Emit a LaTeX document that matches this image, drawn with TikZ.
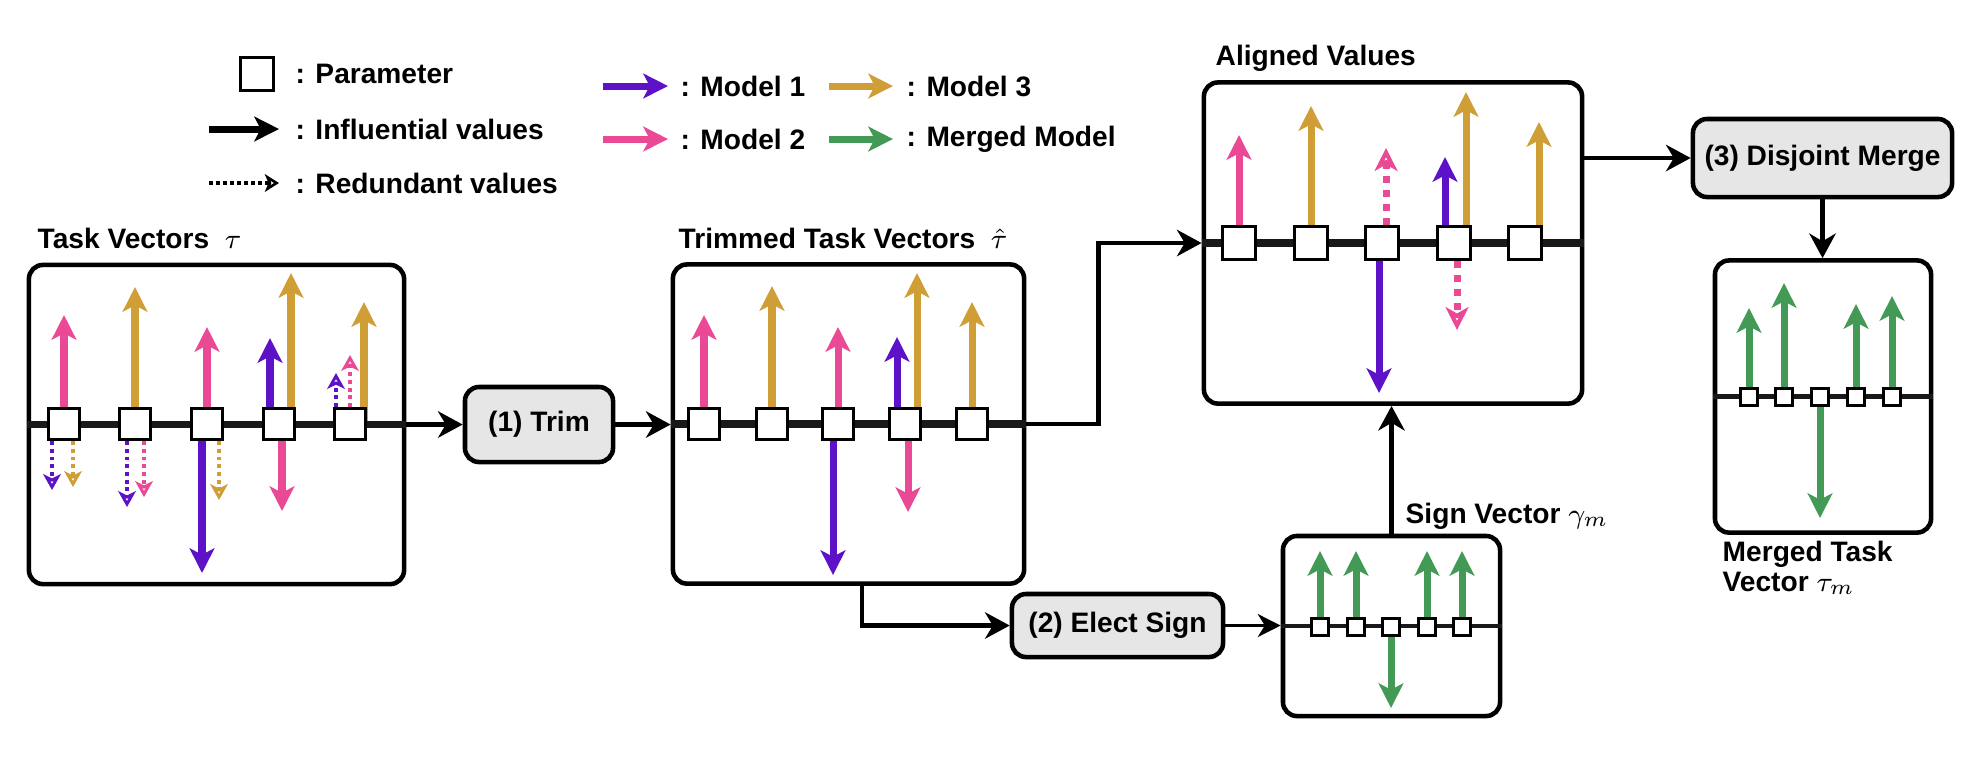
\documentclass[tikz,border=0pt]{standalone}
\usepackage{fontspec}
\setmainfont{Liberation Sans}
\usetikzlibrary{arrows.meta,calc}

\definecolor{mpurple}{HTML}{5E12C8}
\definecolor{mpink}{HTML}{EA4A95}
\definecolor{mgold}{HTML}{CF9E36}
\definecolor{mgreen}{HTML}{429A56}
\definecolor{procgray}{HTML}{E6E6E6}

\tikzset{
    lbl/.style={font=\fontsize{8}{8.6}\selectfont\bfseries, inner sep=0pt},
    panel/.style={draw, line width=1.3pt, rounded corners=4pt, inner sep=0pt},
    proc/.style={draw, fill=procgray, line width=1.3pt, rounded corners=4pt, inner sep=0pt, font=\fontsize{8}{9}\selectfont\bfseries},
    param/.style={draw, fill=white, line width=1.1pt, minimum size=0.31cm, inner sep=0pt},
    smallparam/.style={draw, fill=white, line width=0.9pt, minimum size=0.17cm, inner sep=0pt},
    axisline/.style={line width=2.1pt, black!90},
    smallaxis/.style={line width=1.4pt, black!90},
    conn/.style={line width=1.4pt, -{Stealth[length=7pt,width=7.5pt,inset=2.2pt]}},
    thinconn/.style={line width=0.9pt, -{Stealth[length=6.5pt,width=6.5pt,inset=2pt]}},
    val/.style={line width=2pt, -{Stealth[length=7pt,width=7pt,inset=1.8pt]}},
    redval/.style={line width=1.1pt, dash pattern=on 1.1pt off 1.1pt, -{Stealth[open,length=4.5pt,width=5pt,inset=1.2pt]}},
    bigredval/.style={line width=2pt, dash pattern=on 2pt off 2pt, -{Stealth[open,length=6.5pt,width=6.5pt,inset=1.8pt]}},
}

\begin{document}
\begin{tikzpicture}[x=0.01cm, y=-0.01cm]
    \useasboundingbox (0,0) rectangle (1980,756);

    % legend
    \node[param, minimum size=0.33cm] (legsq) at (257,74) {};
    \node[lbl, anchor=west] (legpar) at (295,74) {: Parameter};
    \coordinate (leginf) at (209,129);
    \node[lbl, anchor=west] (leginftxt) at (295,129) {: Influential values};
    \draw[val, black] (leginf) -- (279,129);
    \coordinate (legred) at (209,183);
    \node[lbl, anchor=west] (legredtxt) at (295,183) {: Redundant values};
    \draw[line width=0.9pt, dash pattern=on 1pt off 1pt, -{Stealth[open,length=4pt,width=5pt,inset=1pt]}] (legred) -- (279,183);

    \node[lbl, anchor=west] (legm1) at (680,86) {: Model 1};
    \node[lbl, anchor=west] (legm2) at (680,139) {: Model 2};
    \node[lbl, anchor=west] (legm3) at (906,86) {: Model 3};
    \node[lbl, anchor=west] (legmm) at (906,139) {: Merged Model};
    \draw[val, mpurple] (603,86) -- (668,86);
    \draw[val, mpink] (603,139) -- (668,139);
    \draw[val, mgold] (829,86) -- (893,86);
    \draw[val, mgreen] (829,139) -- (893,139);

    % panels
    \node[panel, minimum width=3.75cm, minimum height=3.19cm] (tau) at (216.5,424.5) {};
    \node[panel, minimum width=3.51cm, minimum height=3.19cm] (trimmed) at (848.5,424) {};
    \node[panel, minimum width=3.78cm, minimum height=3.21cm] (aligned) at (1393,243) {};
    \node[panel, minimum width=2.17cm, minimum height=1.80cm] (signvec) at (1391.5,626) {};
    \node[panel, minimum width=2.16cm, minimum height=2.72cm] (merged) at (1823,396.5) {};

    \node[lbl, anchor=base west] (taulbl) at (37,248) {Task Vectors\ \ $\tau$};
    \node[lbl, anchor=base west] (trimlbl) at (678,248) {Trimmed Task Vectors\ \ $\hat{\tau}$};
    \node[lbl, anchor=base west] (alignlbl) at (1215,65) {Aligned Values};
    \node[lbl, anchor=base west] (signlbl) at (1405,523) {Sign Vector $\gamma_m$};
    \node[lbl, anchor=north west, align=left] (mergedlbl) at (1722,540) {Merged Task\\Vector $\tau_m$};

    % steps
    \node[proc, minimum width=1.48cm, minimum height=0.75cm] (trim) at (539,424.5) {(1) Trim};
    \node[proc, minimum width=2.11cm, minimum height=0.63cm] (elect) at (1117.5,625.5) {(2) Elect Sign};
    \node[proc, minimum width=2.59cm, minimum height=0.78cm] (merge) at (1822.5,158) {(3) Disjoint Merge};

    % task vectors
    \draw[val, mpink] (64,424) -- (64,315);
    \draw[redval, mpurple] (52,441) -- (52,490);
    \draw[redval, mgold] (73,441) -- (73,487);
    \draw[val, mgold] (135,424) -- (135,287);
    \draw[redval, mpurple] (127,441) -- (127,507);
    \draw[redval, mpink] (144,441) -- (144,497);
    \draw[val, mpink] (207,424) -- (207,327);
    \draw[val, mpurple] (202,424) -- (202,573);
    \draw[redval, mgold] (219,441) -- (219,500);
    \draw[val, mpurple] (270,424) -- (270,338);
    \draw[val, mgold] (291,424) -- (291,273);
    \draw[val, mpink] (282,424) -- (282,511);
    \draw[redval, mpurple] (336,407) -- (336,373);
    \draw[redval, mpink] (350,407) -- (350,355);
    \draw[val, mgold] (364,424) -- (364,302);
    \draw[axisline] (tau.west) -- (tau.east);
    \node[param] (t1) at (64,424) {};
    \node[param] (t2) at (135,424) {};
    \node[param] (t3) at (207,424) {};
    \node[param] (t4) at (279,424) {};
    \node[param] (t5) at (350,424) {};

    % trimmed task vectors
    \draw[val, mpink] (704,424) -- (704,315);
    \draw[val, mgold] (772,424) -- (772,286);
    \draw[val, mpink] (838,424) -- (838,327);
    \draw[val, mpurple] (833,424) -- (833,575);
    \draw[val, mpurple] (897,424) -- (897,337);
    \draw[val, mgold] (917,424) -- (917,273);
    \draw[val, mpink] (908,424) -- (908,512);
    \draw[val, mgold] (972,424) -- (972,302);
    \draw[axisline] (trimmed.west) -- (trimmed.east);
    \node[param] (h1) at (704,424) {};
    \node[param] (h2) at (772,424) {};
    \node[param] (h3) at (838,424) {};
    \node[param] (h4) at (905,424) {};
    \node[param] (h5) at (972,424) {};

    % aligned values
    \draw[val, mpink] (1239,243) -- (1239,135);
    \draw[val, mgold] (1311,243) -- (1311,106);
    \draw[bigredval, mpink] (1386,225) -- (1386,148);
    \draw[val, mpurple] (1379,243) -- (1379,393);
    \draw[val, mpurple] (1445,243) -- (1445,157);
    \draw[val, mgold] (1466,243) -- (1466,92);
    \draw[bigredval, mpink] (1457,261) -- (1457,330);
    \draw[val, mgold] (1539,243) -- (1539,122);
    \draw[axisline] (aligned.west) -- (aligned.east);
    \node[param, minimum size=0.33cm] (a1) at (1239,243) {};
    \node[param, minimum size=0.33cm] (a2) at (1311,243) {};
    \node[param, minimum size=0.33cm] (a3) at (1382,243) {};
    \node[param, minimum size=0.33cm] (a4) at (1454,243) {};
    \node[param, minimum size=0.33cm] (a5) at (1525,243) {};

    % sign vector
    \draw[val, mgreen] (1320,627) -- (1320,551);
    \draw[val, mgreen] (1356,627) -- (1356,551);
    \draw[val, mgreen] (1391,627) -- (1391,708);
    \draw[val, mgreen] (1427,627) -- (1427,551);
    \draw[val, mgreen] (1462,627) -- (1462,551);
    \draw[smallaxis] (signvec.west) -- (signvec.east);
    \node[smallparam] (s1) at (1320,627) {};
    \node[smallparam] (s2) at (1356,627) {};
    \node[smallparam] (s3) at (1391,627) {};
    \node[smallparam] (s4) at (1427,627) {};
    \node[smallparam] (s5) at (1462,627) {};

    % merged task vector
    \draw[val, mgreen] (1749,397) -- (1749,308);
    \draw[val, mgreen] (1784,397) -- (1784,283);
    \draw[val, mgreen] (1820,397) -- (1820,518);
    \draw[val, mgreen] (1856,397) -- (1856,304);
    \draw[val, mgreen] (1892,397) -- (1892,296);
    \draw[smallaxis] (merged.west) -- (merged.east);
    \node[smallparam] (m1) at (1749,397) {};
    \node[smallparam] (m2) at (1784,397) {};
    \node[smallparam] (m3) at (1820,397) {};
    \node[smallparam] (m4) at (1856,397) {};
    \node[smallparam] (m5) at (1892,397) {};

    % connectors
    \draw[conn] (tau.east) -- (trim.west);
    \draw[conn] (trim.east) -- (trim.east -| trimmed.west);
    \draw[conn] (trimmed.east) -- ++(72,0) |- (aligned.west);
    \draw[conn] ([xshift=0.135cm]trimmed.south) |- (elect.west);
    \draw[thinconn] (elect.east) -- (elect.east -| signvec.west);
    \draw[conn] (signvec.north) -- (signvec.north |- aligned.south);
    \draw[conn] (aligned.east |- merge.west) -- (merge.west);
    \draw[conn] (merge.south) -- (merge.south |- merged.north);
\end{tikzpicture}
\end{document}
